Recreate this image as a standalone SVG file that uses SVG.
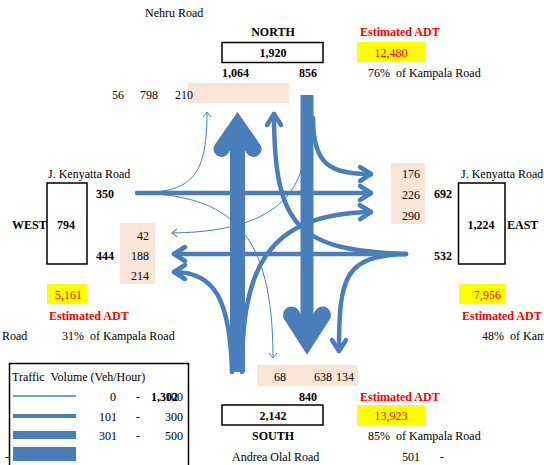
<svg xmlns="http://www.w3.org/2000/svg" width="544" height="465" viewBox="0 0 544 465">
  <style>
    text { font-family: "Liberation Serif", "Times New Roman", serif; font-size: 12px; fill: #000; white-space: pre; }
    .b { font-weight: bold; }
    .red { fill: #FF0000; }
    .mid { text-anchor: middle; }
    .end { text-anchor: end; }
    .box { fill: #fff; stroke: #000; stroke-width: 1.5; }
    .peach { fill: #FBE5D6; }
    .adt { fill: #FFFF00; }
    .thin { fill: none; stroke: #4A7EBB; stroke-width: 1; marker-end: url(#headS); }
    .med { fill: none; stroke: #4A7EBB; stroke-width: 4.5; stroke-linecap: round; marker-end: url(#headM); }
    .trunk { fill: #4A7EBB; stroke: none; }
    .bighead { fill: #4A7EBB; stroke: #4A7EBB; stroke-linejoin: miter; stroke-linecap: round; }
  </style>
  <defs>
    <marker id="headM" markerUnits="userSpaceOnUse" markerWidth="30" markerHeight="30" refX="0" refY="0" orient="auto" style="overflow:visible">
      <path d="M-11,-7 L0,0 L-11,7" fill="none" stroke="#4A7EBB" stroke-width="4.5" stroke-linecap="round" stroke-linejoin="round"/>
    </marker>
    <marker id="headS" markerUnits="userSpaceOnUse" markerWidth="20" markerHeight="20" refX="0" refY="0" orient="auto" style="overflow:visible">
      <path d="M-5,-4 L0,0 L-5,4" fill="none" stroke="#4A7EBB" stroke-width="1"/>
    </marker>
  </defs>

  <rect width="544" height="465" fill="#fff"/>

  <!-- count boxes behind the movement arrows -->
  <rect class="peach" x="188" y="83" width="101" height="20"/>
  <rect class="peach" x="120" y="223" width="35" height="61"/>
  <rect class="peach" x="391" y="163" width="34" height="61"/>
  <rect class="peach" x="257" y="365" width="101" height="21"/>

  <!-- turning movements -->
  <g id="connectors">
    <!-- west approach -->
    <line class="med" x1="137" y1="193" x2="371" y2="193"/>
    <path class="thin" d="M137,193 C190,192 207,180 207,112"/>
    <path class="thin" d="M137,193 C230,195 273,230 273,358"/>
    <!-- east approach -->
    <line class="med" x1="406" y1="254" x2="174" y2="254"/>
    <path class="med" d="M406,254 C300,250 274,230 274,114"/>
    <path class="med" d="M406,254 C345,256 339,275 339,351"/>
    <!-- north approach -->
    <path class="med" d="M313,118 C313,165 330,174 371,174"/>
    <path class="thin" d="M304,158 C295,215 240,232 172,233"/>
    <!-- south approach -->
    <path class="med" d="M232,372 C230,300 215,272 174,272"/>
    <path class="med" d="M242,372 C242,270 265,214 371,212"/>
    <!-- south to north through -->
    <rect class="trunk" x="230" y="138" width="15" height="234"/>
    <path class="bighead" stroke-width="16" d="M221.5,149 L237.5,126 L253.5,149"/>
    <!-- north to south through -->
    <rect class="trunk" x="300.5" y="95" width="13" height="235"/>
    <path class="bighead" stroke-width="17" d="M291.5,315 L307,339 L322.5,315"/>
  </g>

  <!-- north approach -->
  <g id="north">
    <text x="145" y="17">Nehru Road</text>
    <text class="b mid" x="273" y="36">NORTH</text>
    <rect class="box" x="222" y="42.5" width="101" height="20"/>
    <text class="b mid" x="273" y="57">1,920</text>
    <text class="b" x="222" y="77">1,064</text>
    <text class="b" x="299" y="77">856</text>
    <text x="112" y="99">56</text>
    <text x="140" y="99">798</text>
    <text x="175" y="99">210</text>
    <text class="b red" x="360" y="36">Estimated ADT</text>
    <rect class="adt" x="357" y="42" width="68" height="20"/>
    <text class="red mid" x="391" y="57">12,480</text>
    <text x="368" y="77">76%  of Kampala Road</text>
  </g>

  <!-- west approach -->
  <g id="west">
    <text x="48" y="177.5">J. Kenyatta Road</text>
    <rect class="box" x="47" y="183" width="40" height="81"/>
    <text class="b" x="12" y="228.5">WEST</text>
    <text class="b mid" x="66" y="228.5">794</text>
    <text class="b" x="96" y="198">350</text>
    <text class="b" x="96" y="259.5">444</text>
    <text class="end" x="149" y="239.5">42</text>
    <text class="end" x="149" y="259.5">188</text>
    <text class="end" x="149" y="279.5">214</text>
    <rect class="adt" x="47" y="284" width="40" height="20"/>
    <text class="red mid" x="68.5" y="299">5,161</text>
    <text class="b red" x="49" y="319.5">Estimated ADT</text>
    <text x="2" y="339.5">Road</text>
    <text x="62" y="339.5">31%  of Kampala Road</text>
  </g>

  <!-- east approach -->
  <g id="east">
    <text x="461" y="178">J. Kenyatta Road</text>
    <rect class="box" x="458.5" y="183" width="46.5" height="81"/>
    <text class="b mid" x="481" y="228.5">1,224</text>
    <text class="b" x="507" y="228.5">EAST</text>
    <text class="b" x="434" y="198">692</text>
    <text class="b" x="434" y="259.5">532</text>
    <text class="end" x="420" y="178">176</text>
    <text class="end" x="420" y="198.5">226</text>
    <text class="end" x="420" y="220">290</text>
    <rect class="adt" x="459" y="284" width="47" height="20"/>
    <text class="red end" x="501" y="299">7,956</text>
    <text class="b red" x="462" y="319.5">Estimated ADT</text>
    <text x="482" y="339.5">48%  of Kam</text>
  </g>

  <!-- south approach -->
  <g id="south">
    <text x="274" y="380.5">68</text>
    <text x="314" y="380.5">638</text>
    <text x="336" y="380.5">134</text>
    <text class="b" x="299" y="401">840</text>
    <rect class="box" x="222" y="405" width="101" height="20"/>
    <text class="b mid" x="273" y="420">2,142</text>
    <text class="b mid" x="273" y="440">SOUTH</text>
    <text x="232" y="460.5">Andrea Olal Road</text>
    <text class="b red" x="360" y="401">Estimated ADT</text>
    <rect class="adt" x="357" y="405" width="68" height="20"/>
    <text class="red mid" x="391" y="420">13,923</text>
    <text x="368" y="440">85%  of Kampala Road</text>
    <text x="402" y="460.5">501</text>
    <text x="440" y="460.5">-</text>
  </g>

  <!-- line-weight key -->
  <g id="legend">
    <text x="5" y="461">-</text>
    <rect class="box" x="9.5" y="363.5" width="179" height="105"/>
    <text x="12" y="380.5">Traffic  Volume (Veh/Hour)</text>
    <line x1="13" y1="396" x2="76" y2="396" stroke="#4A7EBB" stroke-width="1.3"/>
    <rect x="13" y="414" width="63" height="4" fill="#4A7EBB"/>
    <rect x="13" y="431" width="63" height="8" fill="#4A7EBB"/>
    <rect x="13" y="447" width="63" height="14" fill="#4A7EBB"/>
    <text x="110" y="400.5">0</text>
    <text x="136" y="400.5">-</text>
    <text class="end" x="183" y="400.5">100</text>
    <text class="b" x="151" y="400.5">1,302</text>
    <text x="99" y="420.5">101</text>
    <text x="136" y="420.5">-</text>
    <text class="end" x="183" y="420.5">300</text>
    <text x="99" y="439.5">301</text>
    <text x="136" y="439.5">-</text>
    <text class="end" x="183" y="439.5">500</text>
  </g>
</svg>
